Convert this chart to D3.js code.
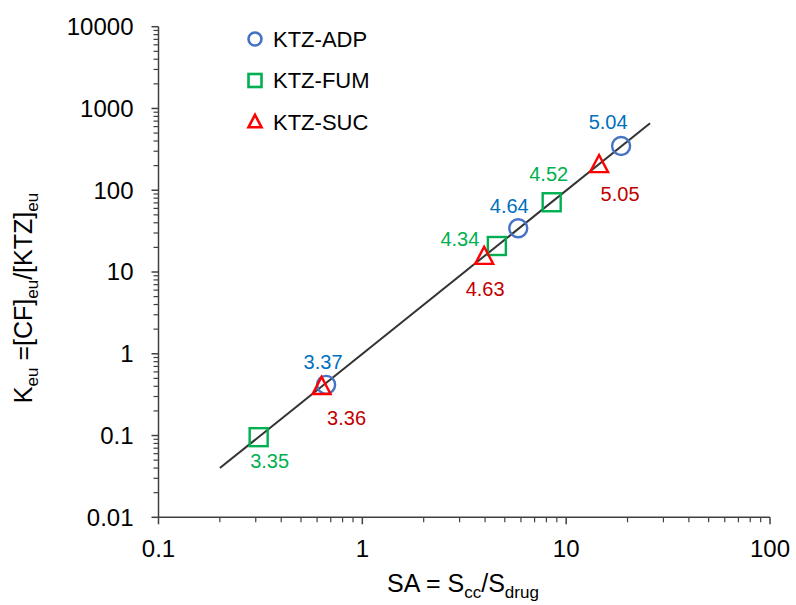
<!DOCTYPE html>
<html>
<head>
<meta charset="utf-8">
<script src="https://cdn.jsdelivr.net/npm/d3@7"></script>
<style>
  html, body { margin: 0; padding: 0; background: #fff; }
  svg { display: block; font-family: "Liberation Sans", Arial, sans-serif; }
</style>
</head>
<body>
<svg id="chart" width="796" height="605"></svg>
<script>
// Salt series
const seriesNames = ["KTZ-ADP", "KTZ-FUM", "KTZ-SUC"];
const seriesShapes = ["circle", "square", "triangle"];
const markerColors = ["#4472C4", "#00B050", "#FF0000"];
const labelColors = ["#0070C0", "#00B050", "#C00000"];

// Solubility advantage (x) and eutectic constant (y) for each salt
const adpSA = [0.664, 5.82, 18.6];
const adpK = [0.417, 34.3, 348];
const adpLabels = ["3.37", "4.64", "5.04"];

const fumSA = [0.31, 4.57, 8.49];
const fumK = [0.0955, 20.8, 71.3];
const fumLabels = ["3.35", "4.34", "4.52"];

const sucSA = [0.631, 3.96, 14.5];
const sucK = [0.394, 15.4, 204];
const sucLabels = ["3.36", "4.63", "5.05"];

// Fitted trend line end points
const fitSA = [0.2, 25.8];
const fitK = [0.04, 659];

// Axis ticks
const xTicks = [0.1, 1, 10, 100];
const yTicks = [0.01, 0.1, 1, 10, 100, 1000, 10000];

// Data label placement (offset of label centre from its marker, px)
const adpLabelOffset = [[-3, -23], [-9, -22], [-13, -24]];
const fumLabelOffset = [[11, 24], [-37, -7], [-3, -28]];
const sucLabelOffset = [[25, 31], [1, 32], [21, 29]];

const svg = d3.select("#chart");
const axisColor = "#404040";

const x = d3.scaleLog().domain([0.1, 100]).range([158.5, 770]);
const y = d3.scaleLog().domain([0.01, 10000]).range([517.3, 26.7]);

// Minor tick values: 2..9 within each decade
function minorTicks(lo, hi) {
  const out = [];
  for (let e = Math.log10(lo); e < Math.log10(hi); e++) {
    for (let m = 2; m <= 9; m++) out.push(m * Math.pow(10, e));
  }
  return out;
}

const fmt = v => (v < 1 ? String(v) : d3.format("d")(v));

// X axis
const gx = svg.append("g").attr("transform", `translate(0,${y.range()[0]})`);
gx.append("line").attr("x1", x.range()[0]).attr("x2", x.range()[1])
  .attr("stroke", axisColor).attr("stroke-width", 1.5);
gx.selectAll("line.minor").data(minorTicks(0.1, 100)).join("line")
  .attr("class", "minor")
  .attr("x1", d => x(d)).attr("x2", d => x(d)).attr("y1", 0).attr("y2", 5)
  .attr("stroke", axisColor).attr("stroke-width", 1.2);
gx.selectAll("line.major").data(xTicks).join("line")
  .attr("class", "major")
  .attr("x1", d => x(d)).attr("x2", d => x(d)).attr("y1", 0).attr("y2", 7)
  .attr("stroke", axisColor).attr("stroke-width", 1.5);
gx.selectAll("text").data(xTicks).join("text")
  .attr("x", d => x(d)).attr("y", 40)
  .attr("text-anchor", "middle").attr("font-size", 24).attr("fill", "#000")
  .text(fmt);

// Y axis
const gy = svg.append("g").attr("transform", `translate(${x.range()[0]},0)`);
gy.append("line").attr("y1", y.range()[0]).attr("y2", y.range()[1])
  .attr("stroke", axisColor).attr("stroke-width", 1.5);
gy.selectAll("line.minor").data(minorTicks(0.01, 10000)).join("line")
  .attr("class", "minor")
  .attr("y1", d => y(d)).attr("y2", d => y(d)).attr("x1", 0).attr("x2", -5)
  .attr("stroke", axisColor).attr("stroke-width", 1.2);
gy.selectAll("line.major").data(yTicks).join("line")
  .attr("class", "major")
  .attr("y1", d => y(d)).attr("y2", d => y(d)).attr("x1", 0).attr("x2", -7)
  .attr("stroke", axisColor).attr("stroke-width", 1.5);
gy.selectAll("text").data(yTicks).join("text")
  .attr("x", -25).attr("y", d => y(d)).attr("dy", "0.35em")
  .attr("text-anchor", "end").attr("font-size", 24).attr("fill", "#000")
  .text(fmt);

// Axis titles with subscripts: each part is [text, isSubscript]
function richText(sel, parts, main, sub) {
  let shift = 0;
  parts.forEach(([t, isSub]) => {
    const target = isSub ? 6 : 0;
    sel.append("tspan")
      .attr("font-size", isSub ? sub : main)
      .attr("dy", target - shift)
      .text(t);
    shift = target;
  });
}
const xTitle = svg.append("text").attr("x", 463).attr("y", 592)
  .attr("text-anchor", "middle").attr("fill", "#000");
richText(xTitle, [["SA = S", false], ["cc", true], ["/S", false], ["drug", true]], 25, 17);

const yTitle = svg.append("text")
  .attr("transform", "translate(32,298) rotate(-90)")
  .attr("text-anchor", "middle").attr("fill", "#000");
richText(yTitle, [["K", false], ["eu", true], [" =[CF]", false], ["eu", true], ["/[KTZ]", false], ["eu", true]], 25, 17);

// Trend line
svg.append("path")
  .datum(d3.zip(fitSA, fitK))
  .attr("d", d3.line().x(d => x(d[0])).y(d => y(d[1])))
  .attr("stroke", "#333").attr("stroke-width", 2).attr("fill", "none");

// Marker drawing
function drawMarker(g, shape, size, color, sw) {
  if (shape === "circle") {
    g.append("circle").attr("r", size / 2)
      .attr("fill", "none").attr("stroke", color).attr("stroke-width", sw);
  } else if (shape === "square") {
    g.append("rect").attr("x", -size / 2).attr("y", -size / 2)
      .attr("width", size).attr("height", size)
      .attr("fill", "none").attr("stroke", color).attr("stroke-width", sw);
  } else {
    const h = size * 0.95;
    g.append("path")
      .attr("d", `M0,${-h * 0.58}L${size / 2},${h * 0.42}L${-size / 2},${h * 0.42}Z`)
      .attr("fill", "none").attr("stroke", color).attr("stroke-width", sw)
      .attr("stroke-linejoin", "miter");
  }
}

const series = [
  { sa: adpSA, k: adpK, labels: adpLabels, off: adpLabelOffset },
  { sa: fumSA, k: fumK, labels: fumLabels, off: fumLabelOffset },
  { sa: sucSA, k: sucK, labels: sucLabels, off: sucLabelOffset }
];

// Points
series.forEach((s, i) => {
  const g = svg.append("g");
  d3.zip(s.sa, s.k).forEach(([sa, k]) => {
    const m = g.append("g").attr("transform", `translate(${x(sa)},${y(k)})`);
    drawMarker(m, seriesShapes[i], 18, markerColors[i], 2.4);
  });
});

// Data labels
series.forEach((s, i) => {
  const pts = d3.zip(s.sa, s.k, s.labels, s.off);
  svg.append("g").selectAll("text").data(pts).join("text")
    .attr("x", d => x(d[0]) + d[3][0])
    .attr("y", d => y(d[1]) + d[3][1])
    .attr("dy", "0.35em")
    .attr("text-anchor", "middle")
    .attr("font-size", 20)
    .attr("fill", labelColors[i])
    .text(d => d[2]);
});

// Legend
const legend = svg.append("g");
seriesNames.forEach((name, i) => {
  const cy = 39 + i * 41.5;
  const m = legend.append("g").attr("transform", `translate(255,${cy})`);
  drawMarker(m, seriesShapes[i], 13, markerColors[i], 2.6);
  legend.append("text").attr("x", 273).attr("y", cy).attr("dy", "0.35em")
    .attr("font-size", 22).attr("fill", "#000").text(name);
});
</script>
</body>
</html>
